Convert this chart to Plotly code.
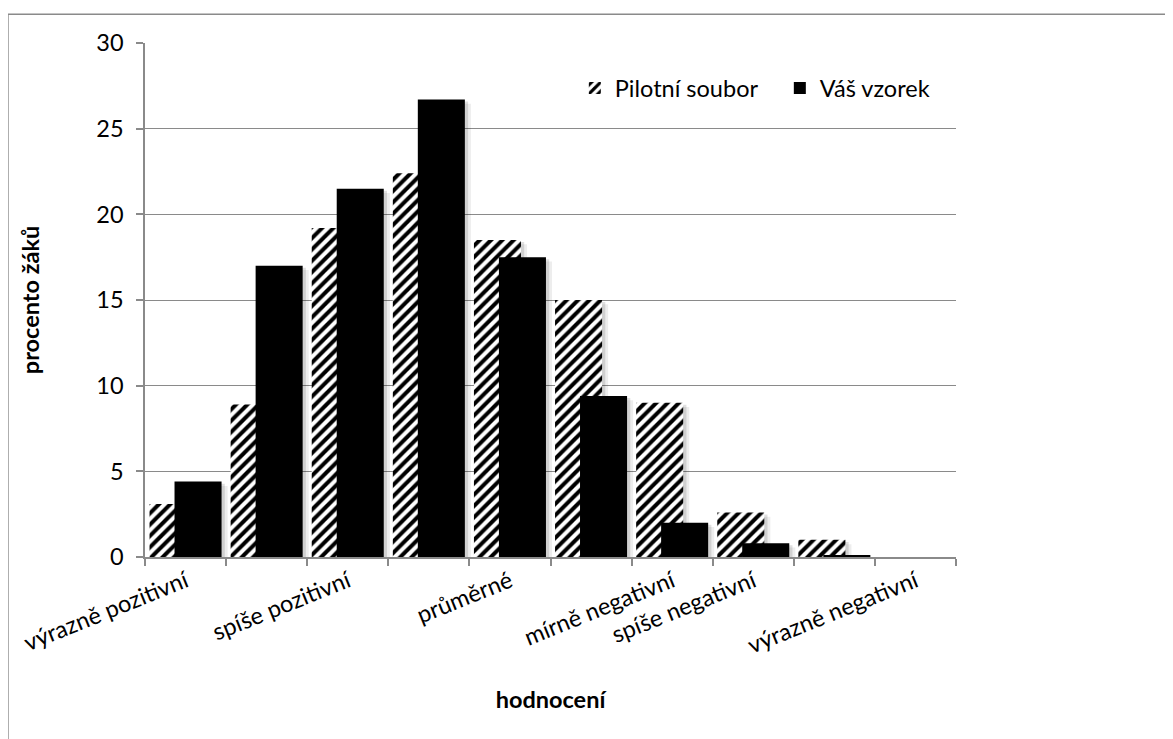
import plotly.graph_objects as go

# ---- data ----
categories = ["výrazně pozitivní", "", "spíše pozitivní", "", "průměrné", "",
              "mírně negativní", "spíše negativní", "", "výrazně negativní"]
pilot = [3.1, 8.9, 19.2, 22.4, 18.5, 15.0, 9.0, 2.6, 1.0, 0.0]
vas = [4.4, 17.0, 21.5, 26.7, 17.5, 9.4, 2.0, 0.8, 0.1, 0.0]
series_names = ["Pilotní soubor", "Váš vzorek"]
y_ticks = [0, 5, 10, 15, 20, 25, 30]

x = list(range(len(categories)))

GRAY = "#8a8a8a"
FONT = "Lato"
FS = 23.5
BAR_W = 0.58
OFF_P = -0.444
OFF_V = -0.136
SHADOWS = [(0.075, 0.25, "rgba(0,0,0,0.07)"), (0.04, 0.12, "rgba(0,0,0,0.12)")]

fig = go.Figure()

# soft shadows behind pilot bars
for dx, dy, col in SHADOWS:
    fig.add_trace(go.Bar(
        x=x, y=[max(v - dy, 0) for v in pilot], width=BAR_W, offset=OFF_P + dx,
        marker=dict(color=col, line=dict(width=0)), showlegend=False, hoverinfo="skip"))
# pilot bars
fig.add_trace(go.Bar(
    x=x, y=pilot, name=series_names[0], width=BAR_W, offset=OFF_P,
    marker=dict(color="white", line=dict(width=0),
                pattern=dict(shape="/", fgcolor="black", bgcolor="white",
                             size=8, solidity=0.5, fillmode="replace"))))
# soft shadows behind vas bars
for dx, dy, col in SHADOWS:
    fig.add_trace(go.Bar(
        x=x, y=[max(v - dy, 0) for v in vas], width=BAR_W, offset=OFF_V + dx,
        marker=dict(color=col, line=dict(width=0)), showlegend=False, hoverinfo="skip"))
# vas bars
fig.add_trace(go.Bar(
    x=x, y=vas, name=series_names[1], width=BAR_W, offset=OFF_V,
    marker=dict(color="black", line=dict(width=0))))

fig.update_layout(
    width=1165, height=731,
    barmode="overlay",
    plot_bgcolor="white", paper_bgcolor="white",
    margin=dict(l=137, r=217, t=35, b=182, autoexpand=False),
    font=dict(family=FONT, size=FS, color="black"),
    legend=dict(orientation="h", x=0.530, y=0.912, xanchor="left", yanchor="middle",
                bgcolor="rgba(0,0,0,0)", font=dict(family=FONT, size=FS, color="black"),
                traceorder="normal", entrywidth=160, entrywidthmode="pixels"),
    showlegend=True,
)

fig.update_xaxes(
    range=[-0.5, len(categories) - 0.5],
    tickmode="array", tickvals=x, ticktext=categories,
    tickangle=-22, ticks="", showgrid=False, zeroline=False,
    showline=True, linecolor=GRAY, linewidth=1.5,
    tickfont=dict(family=FONT, size=FS, color="black"),
    minor=dict(tickmode="array", tickvals=[i - 0.5 for i in range(len(categories) + 1)],
               ticks="outside", ticklen=7, tickwidth=1.5, tickcolor=GRAY, showgrid=False),
    title=dict(text="<b>hodnocení</b>", font=dict(family=FONT, size=FS, color="black"),
               standoff=34),
)

fig.update_yaxes(
    range=[0, 30], tickmode="array", tickvals=y_ticks,
    ticks="outside", ticklen=7, tickwidth=1.5, tickcolor=GRAY,
    ticklabelstandoff=8,
    showgrid=True, gridcolor=GRAY, gridwidth=1.3, zeroline=False,
    showline=True, linecolor=GRAY, linewidth=1.5,
    tickfont=dict(family=FONT, size=FS, color="black"),
    title=dict(text="<b>procento žáků</b>", font=dict(family=FONT, size=FS, color="black"),
               standoff=50),
)

# chart-area border
fig.add_shape(type="rect", xref="paper", yref="paper",
              x0=-0.169, x1=1.30, y0=-0.40, y1=1.056,
              line=dict(color=GRAY, width=1.5), fillcolor="rgba(0,0,0,0)", layer="below")

fig.write_html("out.html")
